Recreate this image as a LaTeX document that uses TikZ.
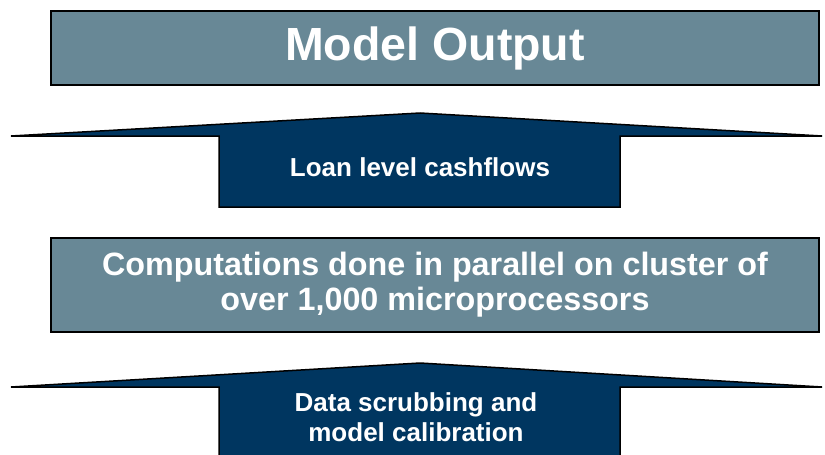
\documentclass[tikz,border=0pt]{standalone}
\usepackage{fontspec}
\setmainfont{Liberation Sans}
\definecolor{slate}{RGB}{104,136,150}
\definecolor{navy}{RGB}{0,54,96}
\begin{document}
\begin{tikzpicture}[x=1pt,y=-1pt,
  box/.style={draw=black, line width=1.5pt, fill=slate, text=white, font=\bfseries, align=center, inner sep=0pt},
  arrowshape/.style={draw=black, line width=1.5pt, fill=navy, line join=miter},
  lbl/.style={text=white, font=\bfseries, align=center, inner sep=0pt}]
\useasboundingbox (0,0) rectangle (825,455);
\node[box, minimum width=768pt, minimum height=74pt, font=\fontsize{46.5}{50}\selectfont\bfseries] (out) at (435,48) {Model Output};
\path[arrowshape] (11,136) -- (420,113) -- (822,136) -- (620,136) -- (620,207) -- (219,207) -- (219,136) -- cycle;
\node[lbl, font=\fontsize{26}{29}\selectfont\bfseries] (loan) at (420,167) {Loan level cashflows};
\node[box, minimum width=768pt, minimum height=94pt, font=\fontsize{32.3}{35}\selectfont\bfseries] (comp) at (435,285) {Computations done in parallel on cluster of\\over 1,000 microprocessors};
\begin{scope}
\clip (0,0) rectangle (825,455);
\path[arrowshape] (11,387) -- (420,363) -- (822,387) -- (620,387) -- (620,470) -- (219,470) -- (219,387) -- cycle;
\end{scope}
\node[lbl, font=\fontsize{26}{30}\selectfont\bfseries] (data) at (416,417) {Data scrubbing and\\model calibration};
\end{tikzpicture}
\end{document}
